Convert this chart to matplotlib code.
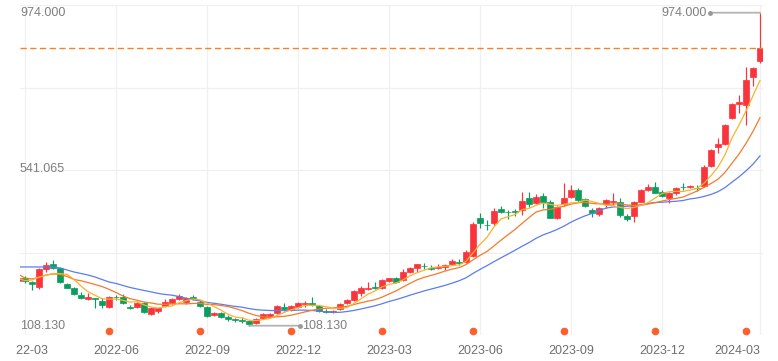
import matplotlib
matplotlib.use("Agg")
import matplotlib.pyplot as plt
import matplotlib.transforms as mtransforms
import numpy as np
import pandas as pd

plt.rcParams['font.family'] = ['Liberation Sans', 'DejaVu Sans']

# weekly candles, 2022-03 .. 2024-03
opens = [231.9, 241.0, 229.9, 216.1, 265.0, 278.0, 267.0, 222.7, 211.7, 193.1,
         181.2, 184.0, 176.5, 160.8, 187.6, 188.4, 158.6, 160.8, 170.2, 140.6,
         149.7, 162.7, 170.2, 181.2, 174.6, 188.4, 174.6, 160.8, 137.8, 142.5,
         131.4, 125.4, 124.0, 122.0, 114.9, 128.7, 135.0, 142.5, 160.8, 151.6,
         160.8, 168.2, 170.2, 162.7, 149.7, 146.1, 153.6, 170.2, 179.3, 197.8,
         209.7, 213.9, 211.7, 232.7, 239.3, 234.6, 257.6, 268.6, 274.2, 268.6,
         267.0, 269.7, 278.9, 283.0, 285.2, 301.0, 405.3, 387.6, 391.5, 430.2,
         422.7, 424.1, 428.2, 462.3, 446.8, 467.8, 451.2, 405.3, 444.0, 465.0,
         483.6, 458.7, 428.2, 416.3, 444.0, 449.5, 449.5, 412.5, 412.5, 451.2,
         483.6, 491.9, 478.0, 461.4, 475.3, 491.9, 491.0, 489.1, 494.6, 549.9,
         601.7, 610.8, 681.9, 721.4, 718.7, 796.9, 841.2]
closes = [240.2, 232.0, 222.7, 265.0, 276.1, 267.0, 229.9, 213.3, 195.1, 184.0,
          188.4, 181.2, 165.5, 188.4, 186.2, 170.2, 157.2, 170.2, 145.3, 156.3,
          156.3, 174.6, 181.2, 190.4, 184.0, 181.2, 162.7, 135.0, 144.2, 131.4,
          125.9, 124.0, 122.0, 112.9, 126.7, 139.7, 140.6, 162.7, 153.6, 162.7,
          170.2, 171.8, 165.5, 149.7, 146.1, 149.7, 168.2, 179.3, 204.2, 211.7,
          213.3, 212.5, 234.6, 239.3, 229.9, 257.6, 268.6, 278.0, 272.5, 264.2,
          271.4, 276.1, 288.0, 281.6, 312.9, 389.5, 393.1, 385.9, 426.3, 421.9,
          421.3, 422.7, 454.0, 444.0, 465.0, 449.5, 406.9, 437.4, 460.6, 483.6,
          455.9, 440.1, 419.1, 434.6, 455.9, 453.1, 414.4, 403.3, 449.5, 483.6,
          492.7, 475.3, 467.0, 475.3, 489.1, 490.5, 495.5, 487.7, 548.0, 594.2,
          610.8, 663.3, 720.6, 727.0, 787.8, 821.8, 875.5]
highs = [242.9, 246.5, 232.0, 267.0, 285.2, 289.9, 271.4, 227.2, 214.4, 200.6,
         197.8, 184.8, 184.0, 191.2, 193.1, 195.1, 165.5, 174.6, 174.6, 159.1,
         158.0, 181.2, 184.0, 195.1, 186.8, 193.1, 179.3, 162.7, 145.3, 145.3,
         137.8, 128.7, 133.1, 124.0, 128.7, 142.5, 144.2, 165.5, 170.2, 165.5,
         174.6, 177.4, 186.8, 165.5, 153.6, 151.6, 170.2, 181.2, 207.0, 218.0,
         229.9, 229.9, 236.6, 241.0, 242.1, 264.2, 271.4, 278.9, 280.8, 276.1,
         278.0, 278.0, 291.9, 291.9, 317.6, 395.9, 420.8, 400.6, 432.9, 439.3,
         428.2, 430.2, 478.9, 478.9, 471.7, 474.4, 455.9, 440.1, 502.1, 497.4,
         489.9, 462.3, 432.9, 437.4, 458.7, 474.4, 460.6, 416.3, 453.1, 486.3,
         499.3, 506.5, 483.6, 478.9, 492.7, 502.1, 497.4, 497.4, 552.7, 597.0,
         626.6, 666.1, 723.4, 746.3, 824.6, 824.6, 974.0]
lows = [227.7, 225.5, 207.0, 209.7, 257.6, 265.0, 225.5, 211.7, 193.1, 182.1,
        179.3, 156.3, 158.0, 158.0, 179.3, 167.4, 154.4, 156.3, 142.5, 137.8,
        142.5, 160.8, 168.2, 179.3, 168.2, 179.3, 160.8, 131.4, 135.0, 128.7,
        122.0, 119.3, 116.5, 108.13, 112.9, 125.9, 128.7, 140.6, 149.7, 149.7,
        156.3, 160.8, 163.5, 146.9, 142.5, 142.5, 151.6, 168.2, 177.4, 190.4,
        207.0, 208.9, 208.9, 229.9, 227.2, 232.0, 254.8, 257.6, 264.2, 262.3,
        264.2, 262.3, 276.1, 276.1, 282.5, 297.4, 377.6, 372.9, 386.7, 419.1,
        403.3, 412.5, 414.4, 437.4, 444.0, 434.6, 405.3, 403.3, 440.1, 460.6,
        451.2, 437.4, 409.7, 412.5, 432.9, 442.1, 409.7, 397.8, 394.2, 449.5,
        480.8, 474.4, 463.4, 448.4, 469.7, 483.6, 489.1, 480.8, 492.7, 548.0,
        586.7, 608.0, 679.1, 695.7, 663.3, 771.2, 834.0]

# moving averages at the left edge (history before the window)
ma5_head = [238.8, 233.2, 234.6, 242.9]
ma10_head = [250.4, 240.2, 237.4, 241.5, 248.4, 251.2, 250.4, 244.3, 236.0]
ma20_head = [270.6, 270.6, 270.6, 270.6, 270.6, 270.6, 267.8, 262.3, 256.7, 252.6,
             248.4, 242.9, 236.0, 229.1, 225.0, 219.4, 213.9, 209.7, 205.6]

tick_idx = [1, 14, 27, 40, 53, 66, 79, 92, 106]
tick_labels = ['2022-03', '2022-06', '2022-09', '2022-12', '2023-03',
               '2023-06', '2023-09', '2023-12', '2024-03']
event_idx = [13, 26, 39, 52, 65, 78, 91, 104]

RED = '#f9343c'
GREEN = '#0c9d5e'

s = pd.Series(closes)
ma5 = s.rolling(5).mean().to_numpy()
ma5[:len(ma5_head)] = ma5_head
ma10 = s.rolling(10).mean().to_numpy()
ma10[:len(ma10_head)] = ma10_head
ma20 = s.rolling(20).mean().to_numpy()
ma20[:len(ma20_head)] = ma20_head

W, H = 778, 361
fig = plt.figure(figsize=(W / 100, H / 100), dpi=100)
ax = fig.add_axes([20 / W, 26 / H, 743 / W, 330 / H])

n = len(closes)
x = np.arange(n)
y_max = max(highs)
y_min = min(lows)
y_lo, y_hi = 82.4, 995.3
ax.set_xlim(0.29, 106.43)
ax.set_ylim(y_lo, y_hi)

# grid
for t in tick_idx:
    ax.axvline(t, color='#f0f0f0', lw=0.9, zorder=0)
for yy in np.linspace(y_lo, y_hi, 5):
    ax.axhline(yy, color='#f0f0f0', lw=0.9, zorder=0)

# candles
o = np.array(opens)
c = np.array(closes)
cols = [RED if ci >= oi else GREEN for oi, ci in zip(o, c)]
ax.vlines(x, lows, highs, colors=cols, lw=0.85, zorder=2)
ax.bar(x, np.abs(c - o), bottom=np.minimum(o, c), width=0.76, color=cols,
       edgecolor=cols, linewidth=0.5, zorder=3)

# moving averages
ax.plot(x, ma20, color='#5b7cf2', lw=0.9, zorder=4)
ax.plot(x, ma10, color='#f57a2c', lw=0.9, zorder=4)
ax.plot(x, ma5, color='#fbb22b', lw=0.9, zorder=4)

# last price line
ax.axhline(closes[-1], color='#f7812b', lw=1.0, ls=(0, (4.5, 2.5)), zorder=5)

# max / min markers
imax = int(np.argmax(highs))
imin = int(np.argmin(lows))
off_l = mtransforms.offset_copy(ax.transData, fig=fig, x=-50, y=0, units='dots')
off_r = mtransforms.offset_copy(ax.transData, fig=fig, x=51, y=0, units='dots')
ax.annotate('', xy=(imax, y_max), xytext=(-50, 0), textcoords='offset pixels',
            arrowprops=dict(arrowstyle='-', color='#b3b3b3', lw=1.3,
                            shrinkA=0, shrinkB=0), zorder=6)
ax.plot([imax], [y_max], 'o', ms=2.5, color='#999999', transform=off_l, zorder=6)
ax.annotate('%.3f' % y_max, xy=(imax, y_max), xytext=(-53, 0),
            textcoords='offset pixels', ha='right', va='center',
            fontsize=9, color='#7f7f7f')
ax.annotate('', xy=(imin, y_min), xytext=(51, 0), textcoords='offset pixels',
            arrowprops=dict(arrowstyle='-', color='#b3b3b3', lw=1.3,
                            shrinkA=0, shrinkB=0), zorder=6)
ax.plot([imin], [y_min], 'o', ms=2.5, color='#999999', transform=off_r, zorder=6)
ax.annotate('%.3f' % y_min, xy=(imin, y_min), xytext=(53, 0),
            textcoords='offset pixels', ha='left', va='center',
            fontsize=9, color='#7f7f7f')

# value labels on the left
ylab = mtransforms.blended_transform_factory(ax.transAxes, ax.transData)
for v in [y_max, (y_max + y_min) / 2, y_min]:
    ax.text(0.0, v, '%.3f' % v, transform=ylab, ha='left', va='center',
            fontsize=9, color='#7f7f7f', zorder=7)

# event dots
ev = mtransforms.blended_transform_factory(ax.transData, ax.transAxes)
ax.plot(event_idx, [0.012] * len(event_idx), 'o', ms=4.5, color='#fd5f2d',
        transform=ev, clip_on=False, zorder=7)

# x labels
for sp in ax.spines.values():
    sp.set_visible(False)
ax.set_yticks([])
ax.set_xticks(tick_idx)
ax.set_xticklabels(tick_labels, fontsize=9, color='#6e6e6e')
ax.tick_params(axis='x', length=0, pad=7)
labels = ax.get_xticklabels()
labels[-1].set_ha('right')
labels[0].set_clip_on(True)
labels[0].set_clip_box(mtransforms.Bbox.from_extents(16, 0, W, H))

fig.savefig('out.png', dpi=100, facecolor='white')
